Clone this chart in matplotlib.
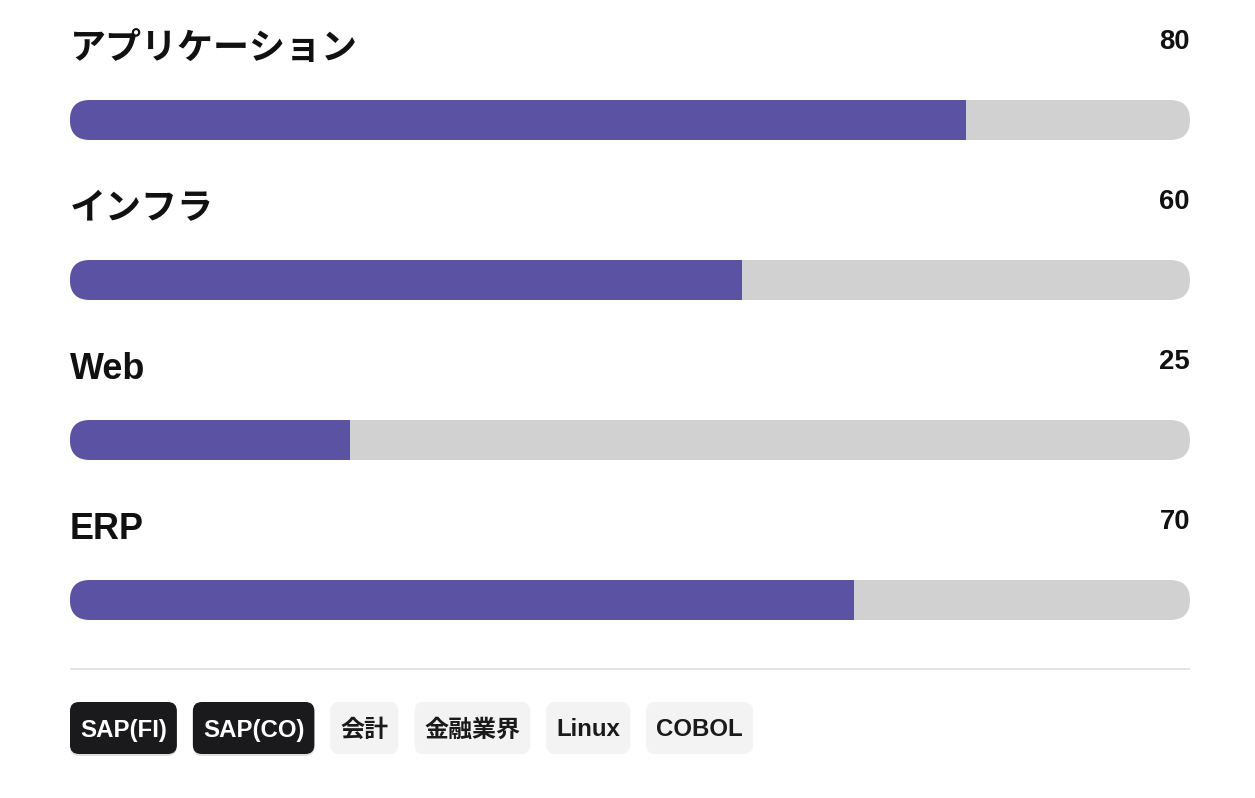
import matplotlib.pyplot as plt
from matplotlib.patches import FancyBboxPatch, Rectangle

# data
categories = ['アプリケーション', 'インフラ', 'Web', 'ERP']
scores = [80, 60, 25, 70]
max_score = 100
tags = ['SAP(FI)', 'SAP(CO)', '会計', '金融業界', 'Linux', 'COBOL']
tag_selected = [True, True, False, False, False, False]

# style
fonts = ['Liberation Sans', 'Noto Sans CJK JP', 'DejaVu Sans']
purple = '#5b52a4'
track = '#d1d1d1'
ink = '#111111'
px = 0.72  # points per pixel at dpi 100

fig = plt.figure(figsize=(12.55, 7.98), dpi=100)
ax = fig.add_axes([0, 0, 1, 1])
ax.set_xlim(0, 1255)
ax.set_ylim(798, 0)
ax.axis('off')

left, right = 70, 1190
width = right - left
bar_h = 40
row = 160

for i, (cat, val) in enumerate(zip(categories, scores)):
    top = 100 + i * row
    ax.text(left, 59 + i * row, cat, fontsize=36 * px, fontweight='bold',
            family=fonts, color=ink, va='baseline', ha='left')
    ax.text(right, 49 + i * row, str(val), fontsize=27.5 * px, fontweight='bold',
            family=fonts, color=ink, va='baseline', ha='right')
    bg = FancyBboxPatch((left, top), width, bar_h,
                        boxstyle='round,pad=0,rounding_size=20',
                        fc=track, ec='none')
    ax.add_patch(bg)
    fill = Rectangle((left, top), width * val / max_score, bar_h,
                     fc=purple, ec='none')
    ax.add_patch(fill)
    fill.set_clip_path(bg)

# divider
ax.plot([left, right], [669, 669], color='#e4e4e4', lw=2 * px,
        solid_capstyle='butt')

# tags
fig.canvas.draw()
renderer = fig.canvas.get_renderer()
x = left
chip_top, chip_h = 702, 52
pad = 10
gap = 16
for tag, sel in zip(tags, tag_selected):
    t = ax.text(0, chip_top + chip_h / 2 + 2, tag, fontsize=24 * px,
                fontweight='bold', family=fonts,
                color='white' if sel else '#1a1a1a', va='center', ha='center',
                zorder=4)
    tw = t.get_window_extent(renderer).width
    w = tw + 2 * pad
    if sel:
        shadow = FancyBboxPatch((x, chip_top + 2), w, chip_h,
                                boxstyle='round,pad=0,rounding_size=9',
                                fc='#000000', ec='none', alpha=0.12, zorder=2)
        ax.add_patch(shadow)
    chip = FancyBboxPatch((x, chip_top), w, chip_h,
                          boxstyle='round,pad=0,rounding_size=9',
                          fc='#1a1a1c' if sel else '#f3f3f3', ec='none', zorder=3)
    ax.add_patch(chip)
    t.set_x(x + w / 2)
    x += w + gap

fig.savefig('out.png', dpi=100, facecolor='white')
